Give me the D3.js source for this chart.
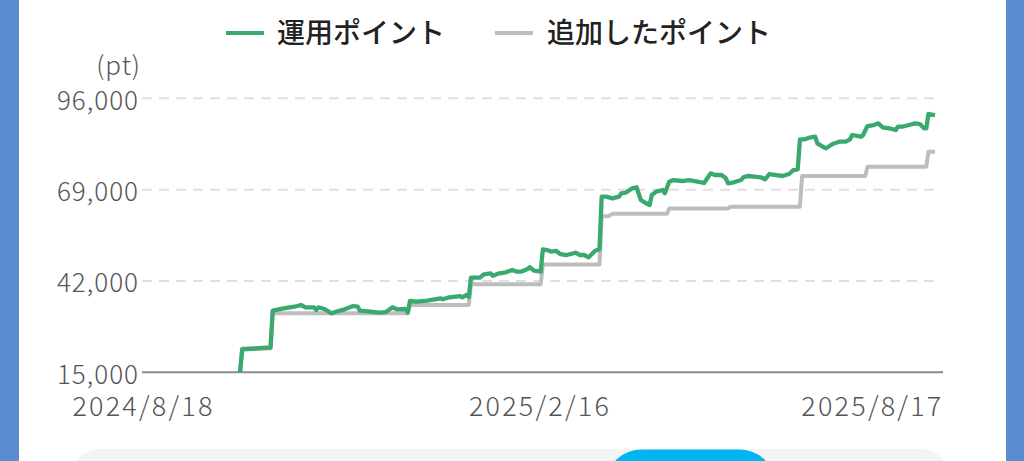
<!DOCTYPE html>
<html><head><meta charset="utf-8">
<script src="https://cdn.jsdelivr.net/npm/d3@7"></script>
<style>
html,body{margin:0;padding:0;background:#fff;}
svg{display:block;}
</style></head><body>
<svg id="c" width="1024" height="461"></svg>
<script>
// ---- data ----
const seriesNames = ["運用ポイント", "追加したポイント"];
const unitLabel = "(pt)";
const yTicks = [15000, 42000, 69000, 96000];
const xTickLabels = ["2024/8/18", "2025/2/16", "2025/8/17"];

const operatedDates = [
 "2024-10-02","2024-10-03","2024-10-09","2024-10-16","2024-10-17","2024-10-22","2024-10-27","2024-10-30",
 "2024-11-01","2024-11-05","2024-11-06","2024-11-07","2024-11-10","2024-11-13","2024-11-15","2024-11-19",
 "2024-11-23","2024-11-25","2024-11-26","2024-12-01","2024-12-05","2024-12-08","2024-12-11","2024-12-13",
 "2024-12-17","2024-12-18","2024-12-19","2024-12-22","2024-12-27","2025-01-02","2025-01-03","2025-01-06",
 "2025-01-11","2025-01-12","2025-01-14","2025-01-15","2025-01-16","2025-01-20","2025-01-22","2025-01-25",
 "2025-01-26","2025-01-29","2025-02-01","2025-02-04","2025-02-06","2025-02-08","2025-02-11","2025-02-12",
 "2025-02-14","2025-02-17","2025-02-18","2025-02-20","2025-02-22","2025-02-24","2025-02-26","2025-03-01",
 "2025-03-05","2025-03-07","2025-03-09","2025-03-11","2025-03-14","2025-03-16","2025-03-17","2025-03-19",
 "2025-03-22","2025-03-25","2025-03-26","2025-03-28","2025-03-31","2025-04-02","2025-04-04","2025-04-06",
 "2025-04-08","2025-04-09","2025-04-11","2025-04-14","2025-04-15","2025-04-17","2025-04-19","2025-04-23",
 "2025-04-26","2025-04-30","2025-05-03","2025-05-06","2025-05-08","2025-05-11","2025-05-13","2025-05-14",
 "2025-05-16","2025-05-20","2025-05-21","2025-05-23","2025-05-26","2025-05-29","2025-05-31","2025-06-02",
 "2025-06-05","2025-06-08","2025-06-11","2025-06-13","2025-06-15","2025-06-16","2025-06-18","2025-06-21",
 "2025-06-23","2025-06-24","2025-06-27","2025-06-28","2025-07-01","2025-07-04","2025-07-07","2025-07-09",
 "2025-07-10","2025-07-14","2025-07-15","2025-07-17","2025-07-20","2025-07-22","2025-07-24","2025-07-27",
 "2025-07-30","2025-07-31","2025-08-02","2025-08-05","2025-08-08","2025-08-10","2025-08-12","2025-08-13",
 "2025-08-14","2025-08-17"
];
const operatedValues = [
 15000,21800,22040,22390,33210,33920,34390,34890,
 34210,34210,33420,34210,33620,32440,32910,33620,
 34600,34390,33210,32910,32620,32820,34210,33620,
 33710,32620,36080,35870,36170,36870,36580,37170,
 37550,37170,37850,37260,42960,42960,43970,44260,
 43550,44260,44560,45240,44740,44740,45540,46040,
 45030,44740,51360,51150,50650,50940,49970,49670,
 50350,49670,49670,48990,50940,51360,66910,66910,
 66430,66910,67910,68090,69390,69690,65930,65130,
 64450,67410,68390,68890,67910,71340,71840,71550,
 71840,71340,70960,73820,73320,73320,72350,70870,
 71050,71840,72640,73030,72820,72640,72050,73620,
 73320,73030,73620,74800,75010,83870,83870,84470,
 84640,82690,81510,81210,82490,83170,83170,83870,
 85150,84640,85150,87810,88100,88600,87420,87130,
 86620,87600,87600,88100,88600,88400,87130,87130,
 91350,91060
];

const addedDates = [
 "2024-10-02","2024-10-03","2024-10-16","2024-10-17","2024-12-18","2024-12-19","2025-01-15","2025-01-16",
 "2025-02-17","2025-02-18","2025-03-16","2025-03-17","2025-03-20","2025-03-22","2025-04-16","2025-04-17",
 "2025-05-14","2025-05-15","2025-06-16","2025-06-17","2025-07-16","2025-07-17","2025-08-13","2025-08-14",
 "2025-08-17"
];
const addedValues = [
 15000,22000,22000,32440,32440,34900,34900,41000,
 41000,46900,46900,61100,61100,61900,61900,63400,
 63400,63950,63950,73000,73000,75800,75800,80200,
 80200
];

// ---- drawing ----
const svg = d3.select("#c");
const W = 1024, H = 461;
const plot = {left: 142, right: 935, top: 98.3, bottom: 372.3};
const FONT = "'Noto Sans CJK JP','Noto Sans',sans-serif";
const greenColor = "#3aa96e", grayColor = "#bdbdbd";

// page frame
svg.append("rect").attr("x",0).attr("y",0).attr("width",W).attr("height",H).attr("fill","#ffffff");
svg.append("rect").attr("x",0).attr("y",0).attr("width",19).attr("height",H).attr("fill","#5b8cd0");
svg.append("rect").attr("x",1006).attr("y",0).attr("width",18).attr("height",H).attr("fill","#5b8cd0");
// bottom control strip (partially visible)
svg.append("rect").attr("x",73).attr("y",449).attr("width",875).attr("height",60).attr("rx",26).attr("fill","#f4f4f4");
svg.append("rect").attr("x",608).attr("y",449.5).attr("width",165).attr("height",60).attr("rx",34).attr("fill","#00b5f0");

const parse = d3.timeParse("%Y-%m-%d");
const parseSlash = s => { const p = s.split("/").map(Number); return new Date(p[0], p[1]-1, p[2]); };
const xTickDates = xTickLabels.map(parseSlash);

const x = d3.scaleTime().domain([xTickDates[0], xTickDates[xTickDates.length-1]]).range([plot.left, plot.right]);
const y = d3.scaleLinear().domain([yTicks[0], yTicks[yTicks.length-1]]).range([plot.bottom, plot.top]);

// gridlines
const grid = svg.append("g");
grid.selectAll("line").data(yTicks.slice(1)).join("line")
  .attr("x1", plot.left).attr("x2", plot.right + 1)
  .attr("y1", d => y(d)).attr("y2", d => y(d))
  .attr("stroke", "#e0e0e0").attr("stroke-width", 2).attr("stroke-dasharray", "10,7");

// baseline
svg.append("line").attr("x1", plot.left).attr("x2", plot.right + 8)
  .attr("y1", y(yTicks[0])).attr("y2", y(yTicks[0]))
  .attr("stroke", "#8a8a8a").attr("stroke-width", 2);

// y axis labels
const yAxis = d3.axisLeft(y).tickValues(yTicks).tickFormat(d3.format(",")).tickSize(0).tickPadding(3);
const gy = svg.append("g").attr("transform", `translate(${plot.left},0)`).call(yAxis);
gy.select(".domain").remove();
gy.selectAll("text").attr("dy", null).attr("y", 11)
  .attr("font-family", FONT).attr("font-size", 26).attr("font-weight", 300)
  .attr("letter-spacing", 1).attr("fill", "#555");

svg.append("text").attr("x", 141).attr("y", 75).attr("text-anchor", "end")
  .attr("font-family", FONT).attr("font-size", 26).attr("font-weight", 300)
  .attr("letter-spacing", 1).attr("fill", "#555")
  .text(unitLabel);

// x axis labels
const xAxis = d3.axisBottom(x).tickValues(xTickDates).tickFormat((d, i) => xTickLabels[i]).tickSize(0).tickPadding(0);
const gx = svg.append("g").attr("transform", `translate(0,${plot.bottom})`).call(xAxis);
gx.select(".domain").remove();
gx.selectAll("text").attr("dy", null).attr("y", 43.5).attr("x", 1)
  .attr("font-family", FONT).attr("font-size", 27).attr("font-weight", 300)
  .attr("letter-spacing", 2.2).attr("fill", "#555");
gx.selectAll(".tick").filter((d, i) => i === xTickDates.length - 1).select("text")
  .attr("text-anchor", "end").attr("x", 8);

// lines
const line = d3.line().x(d => x(d.date)).y(d => y(d.value));
const added = addedDates.map((d, i) => ({date: parse(d), value: addedValues[i]}));
const operated = operatedDates.map((d, i) => ({date: parse(d), value: operatedValues[i]}));

svg.append("path").datum(added).attr("d", line)
  .attr("fill", "none").attr("stroke", grayColor).attr("stroke-width", 4)
  .attr("stroke-linejoin", "round").attr("stroke-linecap", "butt");
svg.append("path").datum(operated).attr("d", line)
  .attr("fill", "none").attr("stroke", greenColor).attr("stroke-width", 4.3)
  .attr("stroke-linejoin", "round").attr("stroke-linecap", "butt");

// legend
const legendItems = [
  {name: seriesNames[0], color: greenColor, x1: 226, x2: 264, tx: 277},
  {name: seriesNames[1], color: grayColor, x1: 495, x2: 533, tx: 547}
];
const lg = svg.append("g");
legendItems.forEach(it => {
  lg.append("line").attr("x1", it.x1).attr("x2", it.x2).attr("y1", 33).attr("y2", 33)
    .attr("stroke", it.color).attr("stroke-width", 4);
  lg.append("text").attr("x", it.tx).attr("y", 42.5)
    .attr("font-family", FONT).attr("font-size", 28).attr("font-weight", 500).attr("fill", "#222")
    .text(it.name);
});
</script>
</body></html>
